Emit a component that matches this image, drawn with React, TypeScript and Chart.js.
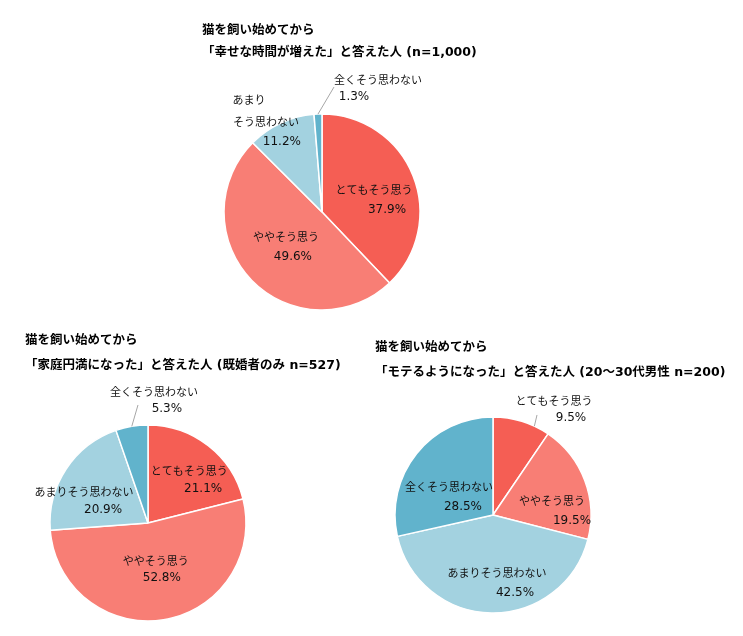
import React, { useEffect, useRef } from "react";
import { Chart, ArcElement, PieController } from "chart.js";

Chart.register(ArcElement, PieController);

const categories = ["とてもそう思う", "ややそう思う", "あまりそう思わない", "全くそう思わない"];
const happyValues = [37.9, 49.6, 11.2, 1.3];
const familyValues = [21.1, 52.8, 20.9, 5.3];
const popularValues = [9.5, 19.5, 42.5, 28.5];
const happyTitle = ["猫を飼い始めてから", "「幸せな時間が増えた」と答えた人 (n=1,000)"];
const familyTitle = ["猫を飼い始めてから", "「家庭円満になった」と答えた人 (既婚者のみ n=527)"];
const popularTitle = ["猫を飼い始めてから", "「モテるようになった」と答えた人 (20～30代男性 n=200)"];
const sliceColors = ["#F55E54", "#F87E75", "#A3D2E0", "#61B3CC"];

type LabelLayout = {
  pos: [number, number][];
  split?: number;
  leader?: [number, number];
  leaderFrac?: number;
};

const happyLabels: LabelLayout[] = [
  { pos: [[6.5, -4], [19.5, 16]] },
  { pos: [[-1, -9], [6, 11]] },
  { split: 3, pos: [[-52.5, -67.5], [-35.5, -45.5], [-19.5, -25.5]] },
  { pos: [[58, -83], [34, -66]], leader: [14, -76] },
];
const familyLabels: LabelLayout[] = [
  { pos: [[11, -13.4], [25, 4.6]] },
  { pos: [[0, -10.4], [6, 6.6]] },
  { pos: [[-23, -4], [-4, 14]] },
  { pos: [[14, -82.7], [27, -65.7]], leader: [-1.9, -69.7] },
];
const popularLabels: LabelLayout[] = [
  { pos: [[46.6, -67.2], [63.6, -50.2]], leader: [29.6, -53.2], leaderFrac: 0.73 },
  { pos: [[13.2, 3.3], [33.2, 23.3]] },
  { pos: [[4.8, 9], [22.8, 29]] },
  { pos: [[-5.8, 2.7], [8.2, 22.7]] },
];

const NAME_FONT = "11px 'Noto Sans CJK JP', sans-serif";
const PCT_FONT = "12px 'DejaVu Sans', 'Noto Sans CJK JP', sans-serif";
const TITLE_FONT = "bold 12.5px 'DejaVu Sans', 'Noto Sans CJK JP', sans-serif";

function makeLabelPlugin(values: number[], layout: LabelLayout[]) {
  return {
    id: "sliceLabels",
    afterDatasetsDraw(chart: any) {
      const ctx = chart.ctx as CanvasRenderingContext2D;
      const meta = chart.getDatasetMeta(0);
      ctx.save();
      meta.data.forEach((arc: any, i: number) => {
        const p = arc.getProps(["x", "y", "startAngle", "endAngle", "outerRadius"], true);
        const tp = arc.tooltipPosition(true);
        const L = layout[i];
        const name = categories[i];
        const nameLines = L.split ? [name.slice(0, L.split), name.slice(L.split)] : [name];
        const texts = [...nameLines, values[i].toFixed(1) + "%"];
        if (L.leader) {
          const a = p.startAngle + (p.endAngle - p.startAngle) * (L.leaderFrac ?? 0.5);
          ctx.beginPath();
          ctx.strokeStyle = "#A6A6A6";
          ctx.lineWidth = 1;
          ctx.moveTo(p.x + Math.cos(a) * p.outerRadius, p.y + Math.sin(a) * p.outerRadius);
          ctx.lineTo(tp.x + L.leader[0], tp.y + L.leader[1]);
          ctx.stroke();
        }
        ctx.fillStyle = "#111";
        ctx.textAlign = "center";
        ctx.textBaseline = "middle";
        texts.forEach((t, j) => {
          const [dx, dy] = L.pos[j];
          ctx.font = j === texts.length - 1 ? PCT_FONT : NAME_FONT;
          ctx.fillText(t, tp.x + dx, tp.y + dy);
        });
      });
      ctx.restore();
    },
  };
}

function makeTitlePlugin(lines: string[], x: number, y: number, lineHeight: number) {
  return {
    id: "twoLineTitle",
    afterDraw(chart: any) {
      const ctx = chart.ctx as CanvasRenderingContext2D;
      ctx.save();
      ctx.font = TITLE_FONT;
      ctx.fillStyle = "#000";
      ctx.textAlign = "left";
      ctx.textBaseline = "middle";
      lines.forEach((t, i) => ctx.fillText(t, x, y + i * lineHeight));
      ctx.restore();
    },
  };
}

type CardProps = {
  values: number[];
  title: string[];
  labels: LabelLayout[];
  box: { x: number; y: number; w: number; h: number };
  padding: { left: number; right: number; top: number; bottom: number };
  titlePos: { x: number; y: number; lh: number };
};

function PieCard({ values, title, labels, box, padding, titlePos }: CardProps) {
  const ref = useRef<HTMLCanvasElement>(null);
  useEffect(() => {
    const chart = new Chart(ref.current as HTMLCanvasElement, {
      type: "pie",
      data: {
        labels: categories,
        datasets: [
          {
            data: values,
            backgroundColor: sliceColors,
            borderColor: "#ffffff",
            borderWidth: 1.5,
            radius: 98,
          } as any,
        ],
      },
      options: {
        animation: false,
        responsive: false,
        events: [],
        layout: { padding },
        plugins: { legend: { display: false }, tooltip: { enabled: false } },
      } as any,
      plugins: [
        makeLabelPlugin(values, labels),
        makeTitlePlugin(title, titlePos.x, titlePos.y, titlePos.lh),
      ],
    });
    return () => chart.destroy();
  }, []);
  return (
    <canvas
      ref={ref}
      width={box.w}
      height={box.h}
      style={{ position: "absolute", left: box.x, top: box.y }}
    />
  );
}

export default function App() {
  return (
    <div style={{ position: "absolute", left: 0, top: 0, width: 743, height: 636, background: "#fff" }}>
      <PieCard
        values={happyValues}
        title={happyTitle}
        labels={happyLabels}
        box={{ x: 0, y: 0, w: 743, h: 325 }}
        padding={{ left: 202, right: 301, top: 99, bottom: 0 }}
        titlePos={{ x: 202, y: 31, lh: 22 }}
      />
      <PieCard
        values={familyValues}
        title={familyTitle}
        labels={familyLabels}
        box={{ x: 0, y: 325, w: 370, h: 311 }}
        padding={{ left: 25, right: 99, top: 85, bottom: 0 }}
        titlePos={{ x: 25, y: 16, lh: 25 }}
      />
      <PieCard
        values={popularValues}
        title={popularTitle}
        labels={popularLabels}
        box={{ x: 370, y: 325, w: 373, h: 311 }}
        padding={{ left: 5, right: 132, top: 69, bottom: 0 }}
        titlePos={{ x: 5, y: 23, lh: 25 }}
      />
    </div>
  );
}
